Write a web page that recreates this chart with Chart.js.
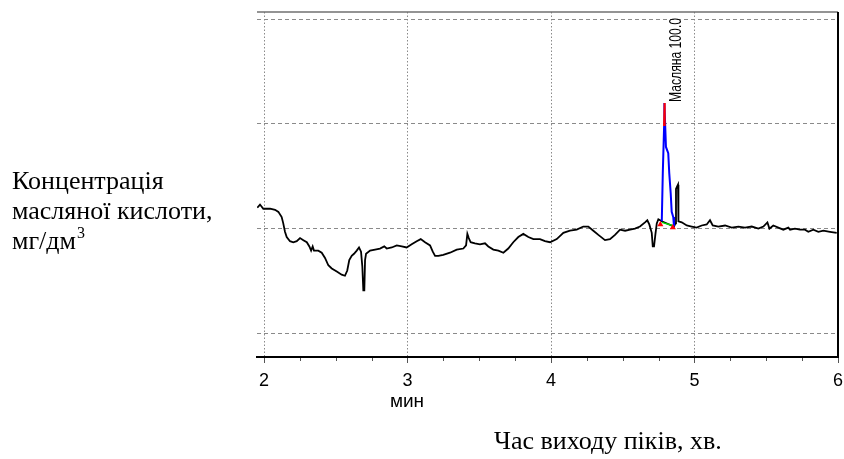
<!DOCTYPE html>
<html><head><meta charset="utf-8">
<script src="https://cdn.jsdelivr.net/npm/chart.js@4"></script>
<style>html,body{margin:0;padding:0;background:#fff;} canvas{display:block;}</style>
</head><body>
<canvas id="c" width="844" height="459"></canvas>
<script>
// ---- data (retention time in min, detector signal in arbitrary units) ----
const minutes = [1.953,1.972,1.995,2.042,2.077,2.100,2.123,2.134,2.146,2.158,
2.181,2.204,2.228,2.251,2.274,2.298,2.316,2.328,2.339,2.348,
2.378,2.402,2.425,2.448,2.472,2.507,2.541,2.564,2.580,2.594,
2.611,2.627,2.646,2.662,2.676,2.685,2.692,2.699,2.704,2.711,
2.739,2.774,2.808,2.838,2.855,2.890,2.925,2.960,2.994,3.029,
3.064,3.092,3.122,3.157,3.176,3.192,3.215,3.249,3.296,3.343,
3.389,3.408,3.417,3.427,3.440,3.470,3.505,3.540,3.563,3.598,
3.633,3.668,3.702,3.737,3.772,3.807,3.842,3.877,3.923,3.958,
3.993,4.040,4.086,4.132,4.179,4.225,4.260,4.295,4.330,4.376,
4.411,4.446,4.481,4.516,4.551,4.585,4.620,4.655,4.671,4.685,
4.702,4.709,4.718,4.727,4.737,4.748,4.760,4.772,
4.857,4.867,4.871,4.878,4.885,4.888,4.911,4.946,4.981,5.015,
5.050,5.085,5.108,5.127,5.166,5.213,5.259,5.306,5.352,5.399,
5.445,5.480,5.508,5.522,5.549,5.584,5.619,5.654,5.666,5.700,
5.735,5.770,5.793,5.828,5.863,5.898,5.944,5.991];
const signal = [12.0,12.3,11.9,11.9,11.8,11.6,11.1,10.5,9.7,9.2,
8.8,8.7,8.8,9.1,8.9,8.7,8.3,7.9,8.3,7.9,
7.9,7.7,7.2,6.5,6.2,5.9,5.6,5.5,6.0,7.0,
7.4,7.6,7.9,8.2,7.8,6.4,4.1,4.1,7.0,7.6,
7.9,8.0,8.1,8.3,8.1,8.2,8.4,8.3,8.2,8.5,
8.8,9.0,8.7,8.4,7.8,7.4,7.4,7.5,7.7,8.0,
8.1,8.4,9.5,9.1,8.7,8.6,8.5,8.6,8.3,8.0,
7.9,7.7,8.1,8.7,9.2,9.5,9.2,9.0,9.0,8.8,
8.7,9.0,9.6,9.8,9.9,10.2,10.2,9.8,9.4,8.9,
9.0,9.4,9.9,9.8,9.9,10.0,10.2,10.6,10.8,10.4,
9.6,8.3,8.3,9.4,10.5,10.9,10.8,10.7,
10.2,10.5,13.8,14.0,14.2,10.7,10.6,10.3,10.2,10.1,
10.3,10.4,10.8,10.3,10.2,10.3,10.1,10.2,10.1,10.2,
10.0,10.2,10.6,10.0,10.3,10.1,9.9,10.1,9.9,10.0,
9.9,9.9,9.7,9.9,9.7,9.8,9.7,9.6];
const peakMinutes = [4.772,4.779,4.788,4.790,4.801,4.817,4.824,4.834,4.841,4.852,4.857];
const peakSignal  = [10.7,15.3,19.7,22.0,17.8,17.2,15.3,13.4,11.6,11.1,10.2];
const apexMinutes = [4.786,4.790,4.794];
const apexSignal  = [19.8,22.0,19.8];
const baseMinutes = [4.772,4.848];
const baseSignal  = [10.6,10.3];
const markerMinutes = [4.762,4.849];
const markerSignal  = [10.4,10.1];
const xTicks = [2,3,4,5,6];
const yTicks = [0,10,20,30];
const peakLabel = 'Масляна 100.0';
const yTitleLines = ['Концентрація','масляної кислоти,','мг/дм'];
const yTitleSup = '3';
const xUnit = 'мин';
const xTitle = 'Час виходу піків, хв.';

const pts = (xs, ys) => xs.map((v, i) => ({x: v, y: ys[i]}));

const decor = {
  id: 'decor',
  afterDraw(chart) {
    const {ctx, chartArea: a, scales: {x, y}} = chart;
    ctx.save();
    // frame: top (gray) and right (black)
    ctx.strokeStyle = '#707070'; ctx.lineWidth = 1.5;
    ctx.beginPath(); ctx.moveTo(a.left, a.top); ctx.lineTo(a.right, a.top); ctx.stroke();
    ctx.strokeStyle = '#000'; ctx.lineWidth = 2;
    ctx.beginPath(); ctx.moveTo(a.right, a.top); ctx.lineTo(a.right, a.bottom + 1); ctx.stroke();
    // minor ticks
    ctx.strokeStyle = '#555'; ctx.lineWidth = 1;
    for (let i = 0; i < xTicks.length - 1; i++) {
      for (let k = 1; k < 4; k++) {
        const px = Math.round(x.getPixelForValue(xTicks[i] + k * (xTicks[i+1] - xTicks[i]) / 4)) + 0.5;
        ctx.beginPath(); ctx.moveTo(px, a.bottom + 1); ctx.lineTo(px, a.bottom + 4); ctx.stroke();
      }
    }
    // peak annotation
    const apx = x.getPixelForValue(apexMinutes[1]);
    const apy = y.getPixelForValue(apexSignal[1]);
    ctx.save();
    ctx.translate(apx + 17, apy - 1);
    ctx.rotate(-Math.PI / 2);
    ctx.font = '16px "Liberation Sans", Arial, sans-serif';
    const w = ctx.measureText(peakLabel).width;
    ctx.scale(84 / w, 1);
    ctx.fillStyle = '#000'; ctx.textBaseline = 'alphabetic'; ctx.textAlign = 'left';
    ctx.fillText(peakLabel, 0, 0);
    ctx.restore();
    // axis unit under the axis
    ctx.fillStyle = '#000';
    ctx.font = '19px "Liberation Sans", Arial, sans-serif';
    ctx.textAlign = 'center'; ctx.textBaseline = 'alphabetic';
    ctx.fillText(xUnit, 407, 407);
    // y title (left)
    ctx.font = '26px "Liberation Serif", "Times New Roman", serif';
    ctx.textAlign = 'left';
    ctx.fillText(yTitleLines[0], 12, 189);
    ctx.fillText(yTitleLines[1], 12, 219);
    ctx.fillText(yTitleLines[2], 12, 249);
    const w3 = ctx.measureText(yTitleLines[2]).width;
    ctx.font = '16px "Liberation Serif", "Times New Roman", serif';
    ctx.fillText(yTitleSup, 12 + w3 + 1, 238);
    // x title (bottom)
    ctx.font = '26px "Liberation Serif", "Times New Roman", serif';
    ctx.fillText(xTitle, 494, 449);
    ctx.restore();
  }
};

new Chart(document.getElementById('c'), {
  type: 'line',
  data: {
    datasets: [
      {data: pts(markerMinutes, markerSignal), showLine: false, pointStyle: 'triangle', pointRadius: 3.5,
       pointBackgroundColor: '#ff0000', pointBorderColor: '#ff0000', pointBorderWidth: 0, order: 1},
      {data: pts(apexMinutes, apexSignal), borderColor: '#ff0000', backgroundColor: '#ff0000', borderWidth: 1.5,
       pointRadius: 0, fill: {value: apexSignal[0]}, order: 2},
      {data: pts(baseMinutes, baseSignal), borderColor: '#00dd00', borderWidth: 1.5, pointRadius: 0, order: 3},
      {data: pts(peakMinutes, peakSignal), borderColor: '#0000ff', borderWidth: 2, pointRadius: 0, order: 4},
      {data: pts(minutes, signal), borderColor: '#000000', borderWidth: 1.8, pointRadius: 0, order: 10}
    ]
  },
  options: {
    responsive: false, animation: false, devicePixelRatio: 1,
    layout: {padding: {left: 257, right: 6, top: 12, bottom: 0}},
    plugins: {legend: {display: false}, tooltip: {enabled: false}},
    elements: {line: {tension: 0, fill: false}},
    scales: {
      x: {
        type: 'linear', min: 1.951, max: 6,
        afterBuildTicks: s => { s.ticks = xTicks.map(v => ({value: v})); },
        afterFit: s => { s.height = 102; s.paddingLeft = 0; s.paddingRight = 0; },
        grid: {color: '#8a8a8a', lineWidth: 1, drawTicks: true, tickLength: 6, tickColor: '#555', tickWidth: 1, tickBorderDash: []},
        border: {display: true, color: '#000', width: 2, dash: [1.5, 2]},
        ticks: {color: '#000', padding: 7, font: {family: '"Liberation Sans", Arial, sans-serif', size: 18}, maxRotation: 0,
                callback: v => String(v)}
      },
      y: {
        type: 'linear', min: -2.26, max: 30.69,
        afterBuildTicks: s => { s.ticks = yTicks.map(v => ({value: v})); },
        afterFit: s => { s.width = 0; s.paddingTop = 0; s.paddingBottom = 0; },
        grid: {color: '#8a8a8a', lineWidth: 1, drawTicks: false},
        border: {display: false, dash: [4, 3]},
        ticks: {display: false}
      }
    }
  },
  plugins: [decor]
});
</script>
</body></html>
